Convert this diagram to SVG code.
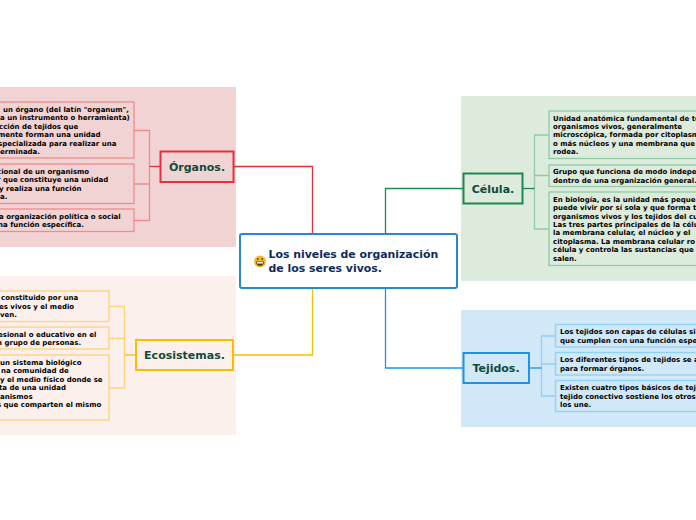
<svg xmlns="http://www.w3.org/2000/svg" width="696" height="520" viewBox="0 0 696 520">
<style>
text{font-family:"DejaVu Sans",Verdana,sans-serif;font-weight:700}
.t{font-size:7px;fill:#000}
.h{font-size:11px;fill:#0f4a3c;text-anchor:middle}
.c{font-size:10.900px;fill:#0d2b5c}
.b{stroke-width:1.300;fill:none}
.l{fill:none;stroke-width:1.300}
.n{fill:none;stroke-width:2}
.k{fill:none;stroke-width:1.300}
</style>
<rect x="0" y="87" width="236" height="160" fill="#f2d3d3"/>
<rect x="0" y="276" width="236" height="159" fill="#fcf0ec"/>
<rect x="461" y="96" width="235" height="185" fill="#dcebdb"/>
<rect x="461" y="310" width="235" height="117" fill="#d0e8f8"/>
<g id="connectors">
<path class="k" stroke="#e8303c" d="M233 166.500H312.500V234"/>
<path class="k" stroke="#ffbb00" d="M233 355H312.500V288"/>
<path class="k" stroke="#1a8a50" d="M385.500 234V188.500H463"/>
<path class="k" stroke="#1f94e6" d="M385.500 288V368H463"/>
<path class="l" stroke="#f28a8a" d="M134 130.500H149.500V220.500H134M134 184H149.500"/>
<path class="l" stroke="#e8303c" d="M149.500 166.500H160"/>
<path class="l" stroke="#ffd27a" d="M109 306.500H124.500V388H109M109 338.500H124.500"/>
<path class="l" stroke="#ffbb00" d="M124.500 355H136"/>
<path class="l" stroke="#8fcca5" d="M549 135H534.500V229H549M534.500 175.500H549"/>
<path class="l" stroke="#1a8a50" d="M522 188.500H534.500"/>
<path class="l" stroke="#8fd0f5" d="M555 336H541.500V396H555M541.500 364H555"/>
<path class="l" stroke="#1f94e6" d="M529 368H541.500"/>
</g>
<g id="center">
<rect x="240" y="234" width="217" height="54" rx="2" fill="#fff" stroke="#2a88c8" stroke-width="2"/>
<circle cx="260" cy="261.500" r="6" fill="#f5b82e"/>
<path d="M256 261.500H264C264 267.500 256 267.500 256 261.500Z" fill="#5a4510"/>
<rect x="257" y="262" width="6" height="1.500" fill="#fff"/>
<circle cx="257.800" cy="259" r=".9" fill="#5a4510"/>
<circle cx="262.200" cy="259" r=".9" fill="#5a4510"/>
<text class="c" x="268.500" y="258">Los niveles de organización</text>
<text class="c" x="268.500" y="272">de los seres vivos.</text>
</g>
<g id="organos">
<rect class="n" x="160.500" y="151.500" width="73" height="30.500" stroke="#e8303c"/>
<text class="h" x="197" y="171">Órganos.</text>
</g>
<g id="organos-1">
<rect class="b" x="-5" y="102" width="139" height="56" stroke="#f28a8a"/>
<text class="t" x="3" y="112">un órgano (del latín "organum",</text>
<text class="t" x="0" y="120">a un instrumento o herramienta)</text>
<text class="t" x="-1" y="129">cción de tejidos que</text>
<text class="t" x="-2" y="137">mente forman una unidad</text>
<text class="t" x="-2" y="146">specializada para realizar una</text>
<text class="t" x="0" y="154">erminada.</text>
</g>
<g id="organos-2">
<rect class="b" x="-5" y="164" width="139" height="39.500" stroke="#f28a8a"/>
<text class="t" x="-3" y="174">cional de un organismo</text>
<text class="t" x="-3" y="182">r que constituye una unidad</text>
<text class="t" x="-1" y="191">y realiza una función</text>
<text class="t" x="0" y="199">a.</text>
</g>
<g id="organos-3">
<rect class="b" x="-5" y="209" width="139" height="22.500" stroke="#f28a8a"/>
<text class="t" x="-1" y="219">a organización política o social</text>
<text class="t" x="-2" y="227">na función específica.</text>
</g>
<g id="ecosistemas">
<rect class="n" x="136" y="340" width="97" height="30" stroke="#ffbb00"/>
<text class="h" x="184.500" y="359">Ecosistemas.</text>
</g>
<g id="ecosistemas-1">
<rect class="b" x="-5" y="291" width="114" height="30.500" stroke="#ffd27a"/>
<text class="t" x="1" y="300">constituido por una</text>
<text class="t" x="-1" y="309">es vivos y el medio</text>
<text class="t" x="0" y="317">ven.</text>
</g>
<g id="ecosistemas-2">
<rect class="b" x="-5" y="327" width="114" height="22" stroke="#ffd27a"/>
<text class="t" x="-2" y="337">esional o educativo en el</text>
<text class="t" x="-3" y="345">n grupo de personas.</text>
</g>
<g id="ecosistemas-3">
<rect class="b" x="-5" y="355" width="114" height="65" stroke="#ffd27a"/>
<text class="t" x="0" y="365">un sistema biológico</text>
<text class="t" x="1" y="373">na comunidad de</text>
<text class="t" x="0" y="382">y el medio físico donde se</text>
<text class="t" x="-1" y="390">ta de una unidad</text>
<text class="t" x="0" y="399">anismos</text>
<text class="t" x="-3" y="407">s que comparten el mismo</text>
</g>
<g id="celula">
<rect class="n" x="463.500" y="173.500" width="59" height="30" stroke="#1a8a50"/>
<text class="h" x="493" y="192.500">Célula.</text>
</g>
<g id="celula-1">
<rect class="b" x="549" y="111" width="152" height="47.500" stroke="#8fcca5"/>
<text class="t" x="553" y="120.500">Unidad anatómica fundamental de to</text>
<text class="t" x="553" y="129">organismos vivos, generalmente</text>
<text class="t" x="553" y="137">microscópica, formada por citoplasm</text>
<text class="t" x="553" y="145.500">o más núcleos y una membrana que</text>
<text class="t" x="553" y="154">rodea.</text>
</g>
<g id="celula-2">
<rect class="b" x="549" y="165" width="152" height="21.500" stroke="#8fcca5"/>
<text class="t" x="553" y="174">Grupo que funciona de modo indepe</text>
<text class="t" x="553" y="182.500">dentro de una organización general.</text>
</g>
<g id="celula-3">
<rect class="b" x="549" y="192" width="152" height="73.500" stroke="#8fcca5"/>
<text class="t" x="553" y="201.500">En biología, es la unidad más pequeñ</text>
<text class="t" x="553" y="210">puede vivir por sí sola y que forma t</text>
<text class="t" x="553" y="218.500">organismos vivos y los tejidos del cu</text>
<text class="t" x="553" y="226.500">Las tres partes principales de la célu</text>
<text class="t" x="553" y="235">la membrana celular, el núcleo y el</text>
<text class="t" x="553" y="243.500">citoplasma. La membrana celular ro</text>
<text class="t" x="553" y="252">célula y controla las sustancias que</text>
<text class="t" x="553" y="260.500">salen.</text>
</g>
<g id="tejidos">
<rect class="n" x="463.500" y="353" width="65.500" height="30" stroke="#1f94e6"/>
<text class="h" x="496" y="372">Tejidos.</text>
</g>
<g id="tejidos-1">
<rect class="b" x="555.500" y="324.500" width="146" height="22.500" stroke="#8fd0f5"/>
<text class="t" x="560" y="334">Los tejidos son capas de células si</text>
<text class="t" x="560" y="343">que cumplen con una función espe</text>
</g>
<g id="tejidos-2">
<rect class="b" x="555.500" y="352.500" width="146" height="22.500" stroke="#8fd0f5"/>
<text class="t" x="560" y="362">Los diferentes tipos de tejidos se a</text>
<text class="t" x="560" y="371">para formar órganos.</text>
</g>
<g id="tejidos-3">
<rect class="b" x="555.500" y="380.500" width="146" height="31" stroke="#8fd0f5"/>
<text class="t" x="560" y="390">Existen cuatro tipos básicos de tej</text>
<text class="t" x="560" y="399">tejido conectivo sostiene los otros</text>
<text class="t" x="560" y="407">los une.</text>
</g>
</svg>
